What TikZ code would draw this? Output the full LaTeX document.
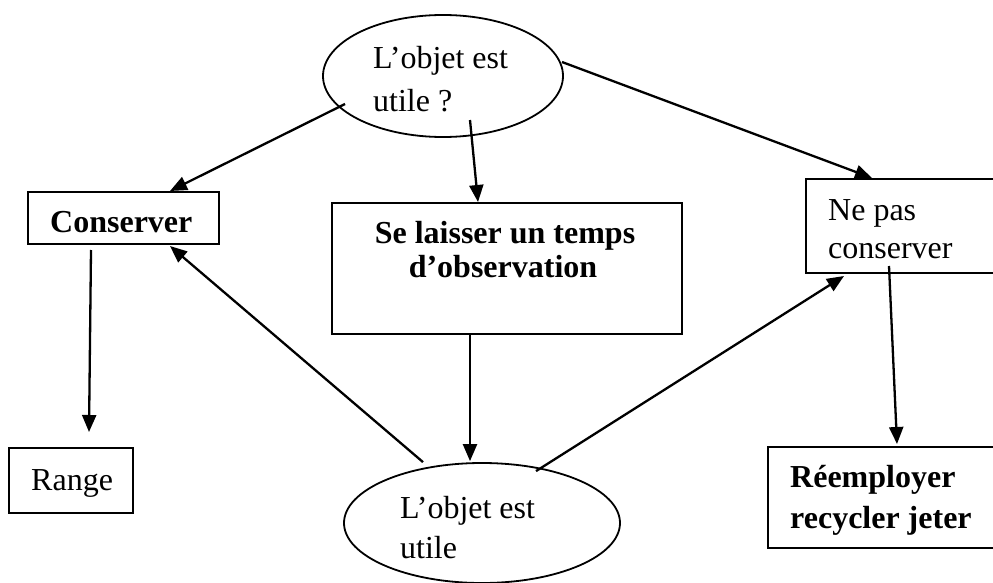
\documentclass[tikz,border=0pt]{standalone}
\usepackage{fontspec}
\setmainfont{Liberation Serif}
\usetikzlibrary{shapes.geometric,arrows.meta,calc}
\tikzset{
  box/.style={draw, line width=2pt, rectangle, inner sep=0pt},
  oval/.style={draw, line width=1.8pt, ellipse, inner sep=0pt},
  txt/.style={inner sep=0pt, anchor=base west, font=\fontsize{32}{38}\selectfont},
  txtc/.style={txt, anchor=base},
  arr/.style={line width=2.3pt, -{Triangle[length=17pt,width=14pt]}}
}
\begin{document}
\begin{tikzpicture}[x=1pt,y=-1pt]
\useasboundingbox (0,0) rectangle (993,583);
\clip (0,0) rectangle (993,583);

% decision ellipses
\node[oval, minimum width=240pt, minimum height=122pt] (q1) at (443,76) {};
\node[oval, minimum width=276pt, minimum height=120pt] (q2) at (482,523) {};

% action boxes
\node[box, minimum width=191pt, minimum height=52pt] (cons) at (123.5,218) {};
\node[box, minimum width=350pt, minimum height=131pt] (obs) at (507,268.5) {};
\node[box, minimum width=204pt, minimum height=94pt] (nepas) at (908,226) {};
\node[box, minimum width=124pt, minimum height=65pt] (range) at (71,480.5) {};
\node[box, minimum width=242pt, minimum height=101pt] (reemp) at (889,497.5) {};

% labels
\node[txt] (q1a) at (373,69) {L’objet est};
\node[txt] (q1b) at (373,112) {utile ?};
\node[txt] (consT) at (50,232) {\bfseries Conserver};
\node[txtc] (obsA) at (505,243) {\bfseries Se laisser un temps};
\node[txtc] (obsB) at (503,277) {\bfseries d’observation};
\node[txt] (nepasA) at (828,220) {Ne pas};
\node[txt] (nepasB) at (828,258) {conserver};
\node[txt] (rangeT) at (31,490) {Range};
\node[txt] (q2a) at (400,518) {L’objet est};
\node[txt] (q2b) at (400,558) {utile};
\node[txt] (reempA) at (790,487) {\bfseries Réemployer};
\node[txt] (reempB) at (790,528) {\bfseries recycler jeter};

% connectors
\draw[arr] ($(q1.center)+(-98,28)$) -- ($(cons.north)+(46.5,0)$);
\draw[arr] ($(q1.center)+(27,44)$) -- ($(obs.north)+(-29,0)$);
\draw[arr] ($(q1.center)+(119,-14)$) -- ($(nepas.north west)+(67,0)$);
\draw[arr] ($(cons.south)+(-32.5,5)$) -- ($(range.north)+(18,-15)$);
\draw[arr] ($(obs.south)+(-37,0)$) -- ($(q2.north)+(-12,-1)$);
\draw[arr] ($(q2.north)+(-59,0)$) -- ($(cons.south)+(46.5,1)$);
\draw[arr] ($(q2.north)+(54,9)$) -- ($(nepas.south west)+(39,2)$);
\draw[arr] ($(nepas.south west)+(84,-8)$) -- ($(reemp.north west)+(130,-2)$);
\end{tikzpicture}
\end{document}
